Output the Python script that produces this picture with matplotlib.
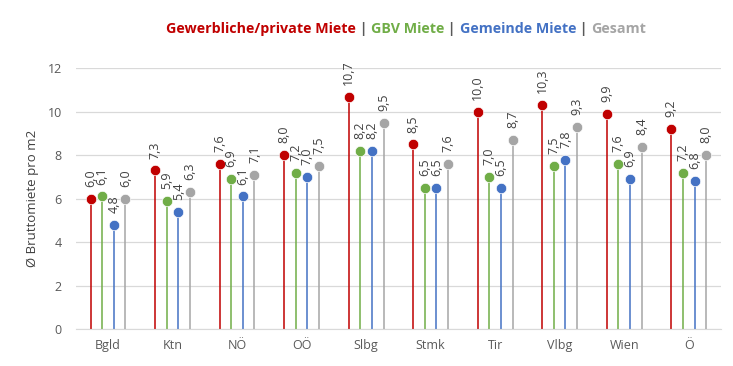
import matplotlib
matplotlib.use("Agg")
import matplotlib.pyplot as plt
import numpy as np

categories = ["Bgld", "Ktn", "NÖ", "OÖ", "Slbg", "Stmk", "Tir", "Vlbg", "Wien", "Ö"]
series_names = ["Gewerbliche/private Miete", "GBV Miete", "Gemeinde Miete", "Gesamt"]
gewerblich = [6.0, 7.3, 7.6, 8.0, 10.7, 8.5, 10.0, 10.3, 9.9, 9.2]
gbv = [6.1, 5.9, 6.9, 7.2, 8.2, 6.5, 7.0, 7.5, 7.6, 7.2]
gemeinde = [4.8, 5.4, 6.1, 7.0, 8.2, 6.5, 6.5, 7.8, 6.9, 6.8]
gesamt = [6.0, 6.3, 7.1, 7.5, 9.5, 7.6, 8.7, 9.3, 8.4, 8.0]
y_ticks = [0, 2, 4, 6, 8, 10, 12]

colors = ["#C00000", "#70AD47", "#4472C4", "#A5A5A5"]
offsets = [-0.27, -0.09, 0.09, 0.27]
all_series = [gewerblich, gbv, gemeinde, gesamt]

plt.rcParams['font.family'] = ['Open Sans', 'DejaVu Sans']

fig = plt.figure(figsize=(7.33, 3.66), dpi=100)
ax = fig.add_axes([0.1033, 0.1011, 0.8803, 0.7123])

x = np.arange(len(categories))
for vals, col, off in zip(all_series, colors, offsets):
    xs = x + off
    ax.vlines(xs, 0, vals, color=col, lw=1.1, zorder=2)
    ax.plot(xs, vals, 'o', color=col, ms=7.5, mec='white', mew=0.5, zorder=3)
    for xi, v in zip(xs, vals):
        ax.annotate(f"{v:.1f}".replace('.', ','), (xi, v), xytext=(0, 8.5),
                    textcoords='offset points', rotation=90, ha='center', va='bottom',
                    fontsize=9, color='#404040')

ax.set_xlim(-0.5, len(categories) - 0.5)
ax.set_ylim(0, 12)
ax.set_yticks(y_ticks)
ax.set_xticks(x)
ax.set_xticklabels(categories)
ax.tick_params(axis='both', length=0, labelsize=9, colors='#595959')
ax.tick_params(axis='y', pad=10)
ax.tick_params(axis='x', pad=7)
ax.grid(axis='y', color='#D9D9D9', lw=0.9, zorder=0)
ax.set_axisbelow(True)
for s in ['left', 'right', 'top']:
    ax.spines[s].set_visible(False)
ax.spines['bottom'].set_color('#D9D9D9')
ax.set_ylabel("Ø Bruttomiete pro m2", fontsize=9.5, color='#404040', labelpad=6)

# Title built from colored pieces
pieces = []
for i, (name, col) in enumerate(zip(series_names, colors)):
    pieces.append((name, col))
    if i < len(series_names) - 1:
        pieces.append((" | ", "#595959"))
fig.canvas.draw()
renderer = fig.canvas.get_renderer()
texts = []
for s, c in pieces:
    t = fig.text(0, 0.92, s, color=c, fontsize=10.3, fontweight='bold', va='center', ha='left')
    texts.append(t)
widths = [t.get_window_extent(renderer).width for t in texts]
total = sum(widths)
start = (165 + 647) / 2 - total / 2
cur = start
for t, w in zip(texts, widths):
    t.set_x(cur / fig.bbox.width)
    cur += w

fig.savefig("out.png", dpi=100)
